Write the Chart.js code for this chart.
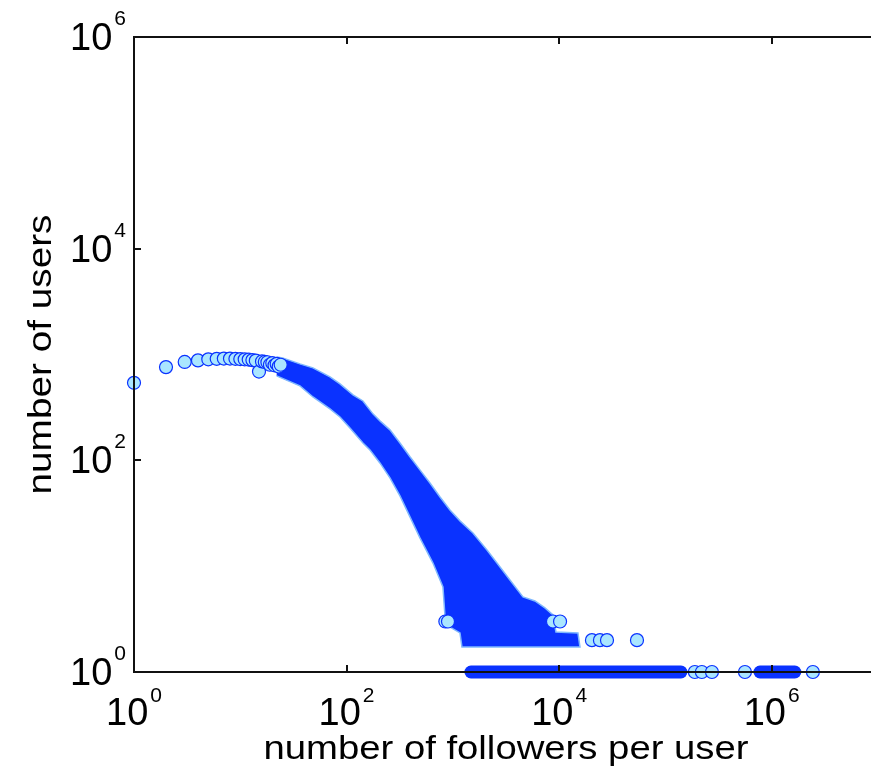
<!DOCTYPE html>
<html>
<head>
<meta charset="utf-8">
<script src="https://cdn.jsdelivr.net/npm/chart.js@4.4.0/dist/chart.umd.min.js"></script>
<style>
  html, body { margin: 0; padding: 0; background: #fff; overflow: hidden; }
  #wrap { width: 890px; height: 775px; }
</style>
</head>
<body>
<div id="wrap"><canvas id="myChart" width="890" height="775"></canvas></div>
<script>
// single points at low follower counts (k, users with k followers)
const headFollowers = [1, 2, 3, 4, 5, 6, 7, 8, 9, 10, 11, 12, 13, 14, 15, 16, 17, 18, 19, 20, 21, 22, 23, 24];
const headUsers = [540, 760, 850, 880, 900, 910, 915, 915, 910, 905, 900, 895, 885, 875, 690, 860, 850, 845, 800, 830, 790, 815, 770, 800];

// outline of the dense cloud (upper edge and lower edge)
const bandUpperX = [22, 25, 36.4, 48.3, 69.8, 86.7, 114.9, 142.6, 177, 206, 256, 318, 395, 490, 609, 757, 939, 1167, 1545, 2094, 2600, 3444, 4565, 5920, 7350, 8750, 9330, 15030, 15700];
const bandUpperY = [949, 929, 815, 747, 614, 527, 415, 364, 275, 236, 194, 146, 108, 81.2, 61.1, 45.1, 34.0, 26.8, 20.6, 14.2, 10.7, 7.4, 5.12, 4.69, 4.03, 3.46, 2.39, 2.34, 1.72];
const bandLowerX = [22, 36.4, 48.3, 69.8, 86.7, 107.6, 142.6, 166, 206, 256, 318, 395, 490, 650, 807, 843, 939, 1167, 1218];
const bandLowerY = [628, 505, 397, 306, 257, 202, 146, 125, 94.5, 68.2, 46.1, 29.2, 18.5, 10.7, 6.36, 3.38, 2.66, 2.34, 1.72];

// runs of users with exactly one follower count hit once
const rowOneStart = [1480, 775000];
const rowOneEnd = [140000, 1650000];

// sparse points in the tail
const tailFollowers = [850, 900, 8750, 10200, 20350, 24200, 28200, 54000, 189000, 220000, 274000, 560000, 2440000];
const tailUsers = [3, 3, 3, 3, 2, 2, 2, 2, 1, 1, 1, 1, 1];

const tickValues = [1, 1e2, 1e4, 1e6];
const tickExps = ['0', '2', '4', '6'];

const BLUE = '#0a32ff';
const LIGHT = '#aae6ff';
const EDGE = '#7fb8ff';

const zip = (xs, ys) => xs.map((x, i) => ({x: x, y: ys[i]}));

const bandOutline = zip(bandUpperX, bandUpperY).concat(zip(bandLowerX, bandLowerY).reverse());

const datasets = [
  {
    label: 'head',
    data: zip(headFollowers, headUsers),
    pointRadius: 6.5,
    borderWidth: 1.2,
    borderColor: BLUE,
    backgroundColor: LIGHT,
    clip: false,
    order: 1
  },
  {
    label: 'tail',
    data: zip(tailFollowers, tailUsers),
    pointRadius: 6.5,
    borderWidth: 1.2,
    borderColor: BLUE,
    backgroundColor: LIGHT,
    clip: false,
    order: 2
  },
  {
    type: 'line',
    label: 'band',
    data: bandOutline,
    fill: 'shape',
    pointRadius: 0,
    borderWidth: 1.5,
    borderColor: EDGE,
    backgroundColor: BLUE,
    tension: 0,
    clip: false,
    order: 3
  }
];
rowOneStart.forEach((s, i) => {
  datasets.push({
    type: 'line',
    label: 'ones' + i,
    data: [{x: s, y: 1}, {x: rowOneEnd[i], y: 1}],
    pointRadius: 0,
    borderWidth: 13,
    borderCapStyle: 'round',
    borderColor: BLUE,
    fill: false,
    clip: false,
    order: 4
  });
});

// matlab-like box, inner ticks, 10^n labels and axis titles
const matlabAxes = {
  id: 'matlabAxes',
  afterDatasetsDraw(chart) {
    const ctx = chart.ctx;
    const a = chart.chartArea;
    const xs = chart.scales.x, ys = chart.scales.y;
    ctx.save();
    ctx.strokeStyle = '#111';
    ctx.lineWidth = 2;
    ctx.strokeRect(a.left, a.top, a.right - a.left, a.bottom - a.top);
    ctx.beginPath();
    tickValues.forEach(v => {
      const px = Math.round(xs.getPixelForValue(v));
      if (px > a.left + 2) {
        ctx.moveTo(px, a.bottom); ctx.lineTo(px, a.bottom - 7);
        ctx.moveTo(px, a.top); ctx.lineTo(px, a.top + 7);
      }
      const py = Math.round(ys.getPixelForValue(v));
      if (py < a.bottom - 2 && py > a.top + 2) {
        ctx.moveTo(a.left, py); ctx.lineTo(a.left + 7, py);
      }
    });
    ctx.stroke();

    ctx.fillStyle = '#000';
    ctx.textBaseline = 'alphabetic';
    const big = '38px "Liberation Sans", Arial, sans-serif';
    const small = '21px "Liberation Sans", Arial, sans-serif';
    tickValues.forEach((v, i) => {
      ctx.font = big;
      const w10 = ctx.measureText('10').width;
      ctx.font = small;
      const wE = ctx.measureText(tickExps[i]).width;
      // x axis label
      const px = xs.getPixelForValue(v);
      const start = px - (w10 + 2 + wE) / 2;
      ctx.textAlign = 'left';
      ctx.font = big;
      ctx.fillText('10', start, a.bottom + 53);
      ctx.font = small;
      ctx.fillText(tickExps[i], start + w10 + 2, a.bottom + 30);
      // y axis label
      const py = ys.getPixelForValue(v);
      ctx.textAlign = 'right';
      ctx.font = small;
      ctx.fillText(tickExps[i], 126, py - 12);
      ctx.font = big;
      ctx.fillText('10', 126 - wE - 2, py + 13);
    });

    ctx.font = '34px "Liberation Sans", Arial, sans-serif';
    ctx.textAlign = 'center';
    const xt = 'number of followers per user';
    const wx = ctx.measureText(xt).width;
    ctx.save();
    ctx.translate((a.left + a.right) / 2, 759);
    ctx.scale(485 / wx, 1);
    ctx.fillText(xt, 0, 0);
    ctx.restore();
    const yt = 'number of users';
    const wy = ctx.measureText(yt).width;
    ctx.save();
    ctx.translate(51, (a.top + a.bottom) / 2);
    ctx.rotate(-Math.PI / 2);
    ctx.scale(280 / wy, 1);
    ctx.fillText(yt, 0, 0);
    ctx.restore();
    ctx.restore();
  }
};

const config = {
  type: 'scatter',
  data: { datasets: datasets },
  options: {
    responsive: false,
    animation: false,
    devicePixelRatio: 1,
    layout: { padding: { top: 37, right: 12, left: 0, bottom: 0 } },
    plugins: { legend: { display: false }, tooltip: { enabled: false } },
    scales: {
      x: {
        type: 'logarithmic',
        min: 1,
        max: 1e7,
        grid: { display: false },
        border: { display: false },
        ticks: { display: false },
        afterFit: s => { s.height = 103; }
      },
      y: {
        type: 'logarithmic',
        min: 1,
        max: 1e6,
        grid: { display: false },
        border: { display: false },
        ticks: { display: false },
        afterFit: s => { s.width = 134; }
      }
    }
  },
  plugins: [matlabAxes]
};

const myChart = new Chart(document.getElementById('myChart'), config);
</script>
</body>
</html>
